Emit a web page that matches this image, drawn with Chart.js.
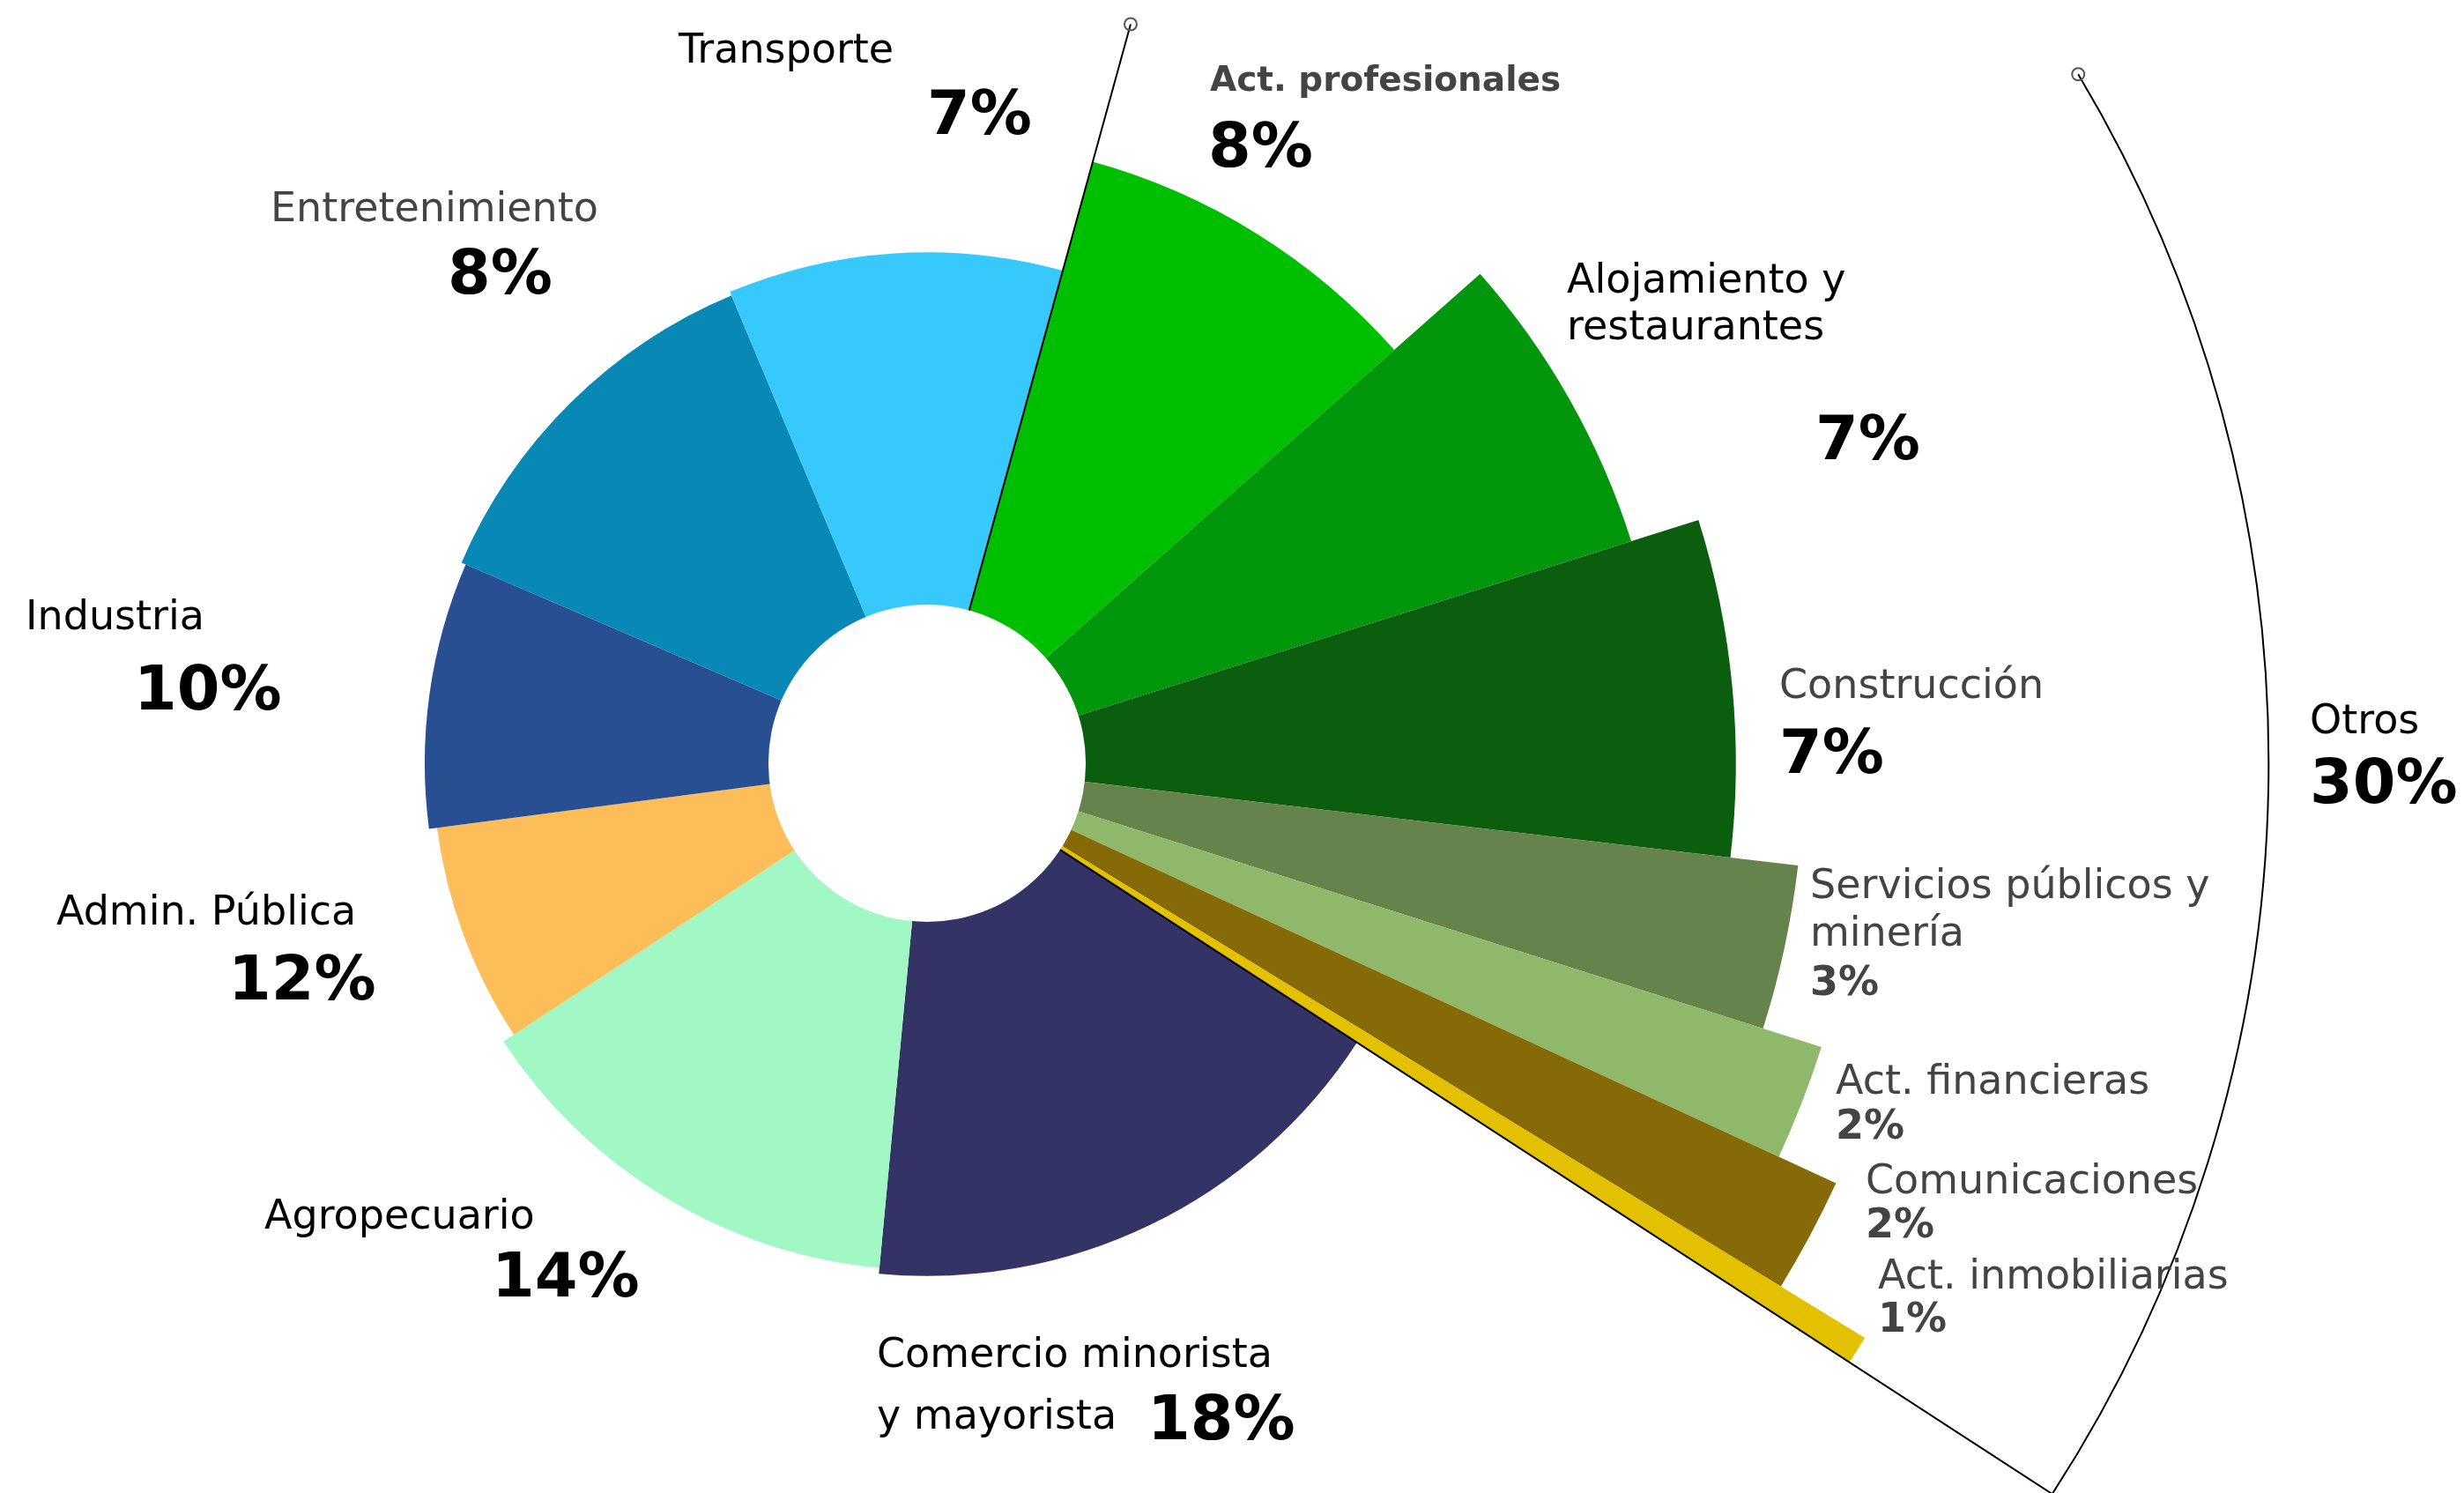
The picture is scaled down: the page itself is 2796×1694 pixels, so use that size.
<!DOCTYPE html>
<html>
<head>
<meta charset="utf-8">
<script src="https://cdn.jsdelivr.net/npm/chart.js@4.4.1/dist/chart.umd.min.js"></script>
<style>
  html, body { margin: 0; padding: 0; background: #fff; }
  #wrap { width: 2796px; height: 1694px; position: relative; }
</style>
</head>
<body>
<div id="wrap"><canvas id="myChart"></canvas></div>
<script>
// slices, clockwise, starting at the top boundary of the "Otros" group
const sectors = [
  "Act. profesionales", "Alojamiento y\nrestaurantes", "Construcción",
  "Servicios públicos y\nminería", "Act. financieras", "Comunicaciones",
  "Act. inmobiliarias", "Comercio minorista\ny mayorista", "Agropecuario",
  "Admin. Pública", "Industria", "Entretenimiento", "Transporte"
];
const pctLabels = ["8%", "7%", "7%", "3%", "2%", "2%", "1%", "18%", "14%", "12%", "10%", "8%", "7%"];

// angular width of each slice in degrees
const sliceDeg = [33.1, 24.0, 24.2, 10.9, 7.2, 6.7, 1.5, 62.4, 51.3, 25.8, 30.8, 44.0, 38.1];
// outer radius of each slice (radial scale units, 0-100)
const sliceRadius = [108.9, 128.9, 141.2, 153.1, 163.8, 174.8, 192.0, 89.5, 88.5, 86.3, 87.7, 88.5, 89.2];

const otrosCount = 7;
const otrosLabel = "Otros";
const otrosPct = "30%";

const sliceColors = [
  "#00BF00", "#02960C", "#0B5E0E", "#66834C", "#8FB86A", "#876A08", "#E4C100",
  "#333366", "#A2F8C4", "#FDBE5A", "#294F93", "#0788B5", "#38C9FC"
];

// radial helpers (scale units)
const holeValue = 27.7;
const pinValue = 133.8;
const bracketValue = 234.2;
const bracketStartDeg = 59.1;
const startDeg = 15.4;

const FONT = "'DejaVu Sans', sans-serif";
const GREY = "#444444";

// text layout: name position, pct position, line gap, style
const labelSpots = [
  {x: 1373, y: 103, px: 1371, py: 189, gap: 0, grey: true, nameFont: "bold 39px", pctFont: "bold 70px", pctGrey: false},
  {x: 1778, y: 332, px: 2060, py: 521, gap: 53, grey: false, nameFont: "46px", pctFont: "bold 70px", pctGrey: false},
  {x: 2019, y: 792, px: 2019, py: 877, gap: 0, grey: true, nameFont: "46px", pctFont: "bold 70px", pctGrey: false},
  {x: 2054, y: 1019, px: 2054, py: 1129, gap: 54, grey: true, nameFont: "46px", pctFont: "bold 46px", pctGrey: true},
  {x: 2083, y: 1241, px: 2083, py: 1292, gap: 0, grey: true, nameFont: "46px", pctFont: "bold 46px", pctGrey: true},
  {x: 2117, y: 1354, px: 2117, py: 1404, gap: 0, grey: true, nameFont: "46px", pctFont: "bold 46px", pctGrey: true},
  {x: 2131, y: 1462, px: 2131, py: 1511, gap: 0, grey: true, nameFont: "46px", pctFont: "bold 46px", pctGrey: true},
  {x: 995, y: 1551, px: 1302, py: 1633, gap: 70, grey: false, nameFont: "46px", pctFont: "bold 70px", pctGrey: false},
  {x: 300, y: 1394, px: 558, py: 1471, gap: 0, grey: false, nameFont: "46px", pctFont: "bold 70px", pctGrey: false},
  {x: 64, y: 1049, px: 259, py: 1134, gap: 0, grey: false, nameFont: "46px", pctFont: "bold 70px", pctGrey: false},
  {x: 29, y: 714, px: 152, py: 805, gap: 0, grey: false, nameFont: "46px", pctFont: "bold 70px", pctGrey: false},
  {x: 307, y: 251, px: 508, py: 333, gap: 0, grey: true, nameFont: "46px", pctFont: "bold 70px", pctGrey: false},
  {x: 770, y: 71, px: 1052, py: 152, gap: 0, grey: false, nameFont: "46px", pctFont: "bold 70px", pctGrey: false}
];
const otrosSpot = {x: 2621, y: 832, px: 2621, py: 911};

function drawLines(ctx, text, x, y, font, color, gap) {
  ctx.font = font + " " + FONT;
  ctx.fillStyle = color;
  ctx.textAlign = "left";
  ctx.textBaseline = "alphabetic";
  text.split("\n").forEach(function (s, i) {
    ctx.fillText(s, x, y + i * gap);
  });
}

const decorPlugin = {
  id: "decor",
  afterDatasetsDraw(chart) {
    const ctx = chart.ctx;
    const scale = chart.scales.r;
    const arcs = chart.getDatasetMeta(0).data;
    const cx = scale.xCenter, cy = scale.yCenter;
    const rIn = scale.getDistanceFromCenterForValue(holeValue);
    const rPin = scale.getDistanceFromCenterForValue(pinValue);
    const rArc = scale.getDistanceFromCenterForValue(bracketValue);
    const a0 = arcs[0].startAngle;
    const a1 = arcs[otrosCount - 1].endAngle;
    const aTop = (bracketStartDeg - 90) * Math.PI / 180;

    ctx.save();
    // hole
    ctx.fillStyle = "#fff";
    ctx.beginPath();
    ctx.arc(cx, cy, rIn, 0, 2 * Math.PI);
    ctx.fill();

    // bracket lines
    ctx.strokeStyle = "#000";
    ctx.lineWidth = 2;
    ctx.beginPath();
    ctx.moveTo(cx + rIn * Math.cos(a0), cy + rIn * Math.sin(a0));
    ctx.lineTo(cx + rPin * Math.cos(a0), cy + rPin * Math.sin(a0));
    ctx.stroke();

    ctx.beginPath();
    ctx.moveTo(cx + rIn * Math.cos(a1), cy + rIn * Math.sin(a1));
    ctx.lineTo(cx + rArc * Math.cos(a1), cy + rArc * Math.sin(a1));
    ctx.arc(cx, cy, rArc, a1, aTop, true);
    ctx.stroke();

    // pins
    ctx.strokeStyle = "#555";
    ctx.lineWidth = 2;
    [[rPin, a0], [rArc, aTop]].forEach(function (p) {
      ctx.beginPath();
      ctx.arc(cx + p[0] * Math.cos(p[1]), cy + p[0] * Math.sin(p[1]), 7, 0, 2 * Math.PI);
      ctx.stroke();
    });

    // labels
    sectors.forEach(function (name, i) {
      const s = labelSpots[i];
      drawLines(ctx, name, s.x, s.y, s.nameFont, s.grey ? GREY : "#000", s.gap);
      drawLines(ctx, pctLabels[i], s.px, s.py, s.pctFont, s.pctGrey ? GREY : "#000", 0);
    });
    drawLines(ctx, otrosLabel, otrosSpot.x, otrosSpot.y, "46px", "#000", 0);
    drawLines(ctx, otrosPct, otrosSpot.px, otrosSpot.py, "bold 70px", "#000", 0);
    ctx.restore();
  }
};

const data = {
  labels: sectors,
  datasets: [{
    data: sliceRadius,
    angle: sliceDeg,
    backgroundColor: sliceColors,
    borderWidth: 0,
    clip: false
  }]
};

const config = {
  type: "polarArea",
  data: data,
  options: {
    responsive: true,
    maintainAspectRatio: false,
    animation: false,
    layout: { padding: { left: 402, right: 1094, top: 216, bottom: 178 } },
    scales: {
      r: { display: false, min: 0, max: 100, startAngle: startDeg }
    },
    plugins: {
      legend: { display: false },
      tooltip: { enabled: false }
    }
  },
  plugins: [decorPlugin]
};

const myChart = new Chart(document.getElementById("myChart"), config);
</script>
</body>
</html>
